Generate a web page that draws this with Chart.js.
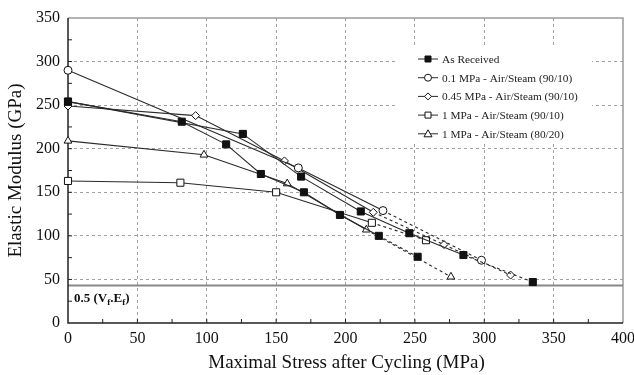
<!DOCTYPE html>
<html>
<head>
<meta charset="utf-8">
<script src="https://cdn.jsdelivr.net/npm/chart.js@4.4.0/dist/chart.umd.min.js"></script>
<style>
  html, body { margin: 0; padding: 0; background: #fff; }
  #wrap { width: 634px; height: 375px; }
</style>
</head>
<body>
<div id="wrap"><canvas id="chart"></canvas></div>
<script>
// values (stress in MPa, modulus in GPa)
const recA_x = [0, 82, 114, 139, 170, 196, 224, 252];
const recA_y = [254, 231, 205, 171, 150, 124, 100, 76];
const recB_x = [0, 126, 168, 211, 246, 285, 335];
const recB_y = [254, 217, 168, 128, 103, 78, 47];
const p01_x = [0, 166, 227, 298];
const p01_y = [290, 178, 129, 72];
const p045_x = [0, 92, 156, 220, 271, 319];
const p045_y = [249, 238, 186, 127, 90, 55];
const p1_x = [0, 81, 150, 219, 258];
const p1_y = [163, 161, 150, 115, 95];
const p1b_x = [0, 98, 158, 215, 276];
const p1b_y = [209, 193, 160, 107, 53];

const xTicks = [0, 50, 100, 150, 200, 250, 300, 350, 400];
const yTicks = [0, 50, 100, 150, 200, 250, 300, 350];
const limitValue = 43;

const legendLabels = [
  "As Received",
  "0.1 MPa - Air/Steam (90/10)",
  "0.45 MPa - Air/Steam (90/10)",
  "1 MPa - Air/Steam (90/10)",
  "1 MPa - Air/Steam (80/20)"
];

const FONT = "'Liberation Serif', 'Times New Roman', serif";
const LINE = "#2a2a2a";

function pts(xs, ys) {
  return xs.map((x, i) => ({ x: x, y: ys[i] }));
}

// segments from index dashFrom on are dotted
function series(xs, ys, style, fill, radius, dashFrom) {
  return {
    data: pts(xs, ys),
    showLine: true,
    clip: false,
    borderColor: LINE,
    borderWidth: 1.1,
    pointStyle: style,
    pointRadius: radius,
    pointBackgroundColor: fill,
    pointBorderColor: "#111",
    pointBorderWidth: 1,
    segment: {
      borderDash: c => c.p0DataIndex >= dashFrom ? [3, 3] : undefined
    }
  };
}

const datasets = [
  series(recA_x, recA_y, "rect", "#111", 5, 6),
  series(recB_x, recB_y, "rect", "#111", 5, 5),
  series(p01_x, p01_y, "circle", "#fff", 4, 2),
  series(p045_x, p045_y, "rectRot", "#fff", 4, 3),
  series(p1_x, p1_y, "rect", "#fff", 5, 3),
  series(p1b_x, p1b_y, "triangle", "#fff", 4.5, 3)
];

function marker(ctx, style, fill, x, y) {
  ctx.save();
  ctx.fillStyle = fill;
  ctx.strokeStyle = "#111";
  ctx.lineWidth = 1;
  ctx.beginPath();
  if (style === "rect") {
    ctx.rect(x - 3, y - 3, 6, 6);
  } else if (style === "circle") {
    ctx.arc(x, y, 3.5, 0, Math.PI * 2);
  } else if (style === "rectRot") {
    ctx.moveTo(x, y - 3.5); ctx.lineTo(x + 3.5, y); ctx.lineTo(x, y + 3.5); ctx.lineTo(x - 3.5, y); ctx.closePath();
  } else {
    ctx.moveTo(x, y - 4); ctx.lineTo(x + 4, y + 3); ctx.lineTo(x - 4, y + 3); ctx.closePath();
  }
  ctx.fill();
  ctx.stroke();
  ctx.restore();
}

const decor = {
  id: "decor",
  beforeDatasetsDraw(chart) {
    const ctx = chart.ctx;
    const a = chart.chartArea;
    const xs = chart.scales.x, ys = chart.scales.y;
    ctx.save();
    // legend background hides the grid
    ctx.fillStyle = "#fff";
    ctx.fillRect(397, 47, 195, 96);
    // top and right frame
    ctx.strokeStyle = "#9a9a9a";
    ctx.lineWidth = 1.5;
    ctx.beginPath();
    ctx.moveTo(a.left, a.top); ctx.lineTo(a.right, a.top); ctx.lineTo(a.right, a.bottom);
    ctx.stroke();
    // 0.5 (Vf.Ef) limit
    const ly = ys.getPixelForValue(limitValue);
    ctx.strokeStyle = "#888";
    ctx.lineWidth = 2;
    ctx.beginPath();
    ctx.moveTo(a.left, ly); ctx.lineTo(a.right, ly);
    ctx.stroke();
    // axes
    ctx.strokeStyle = "#222";
    ctx.lineWidth = 1.5;
    ctx.beginPath();
    ctx.moveTo(a.left, a.top); ctx.lineTo(a.left, a.bottom); ctx.lineTo(a.right, a.bottom);
    ctx.stroke();
    // minor ticks
    ctx.lineWidth = 1;
    ctx.beginPath();
    for (let v = 25; v < 400; v += 25) {
      const px = xs.getPixelForValue(v);
      ctx.moveTo(px, a.bottom); ctx.lineTo(px, a.bottom - 4);
    }
    for (let v = 25; v < 350; v += 25) {
      const py = ys.getPixelForValue(v);
      ctx.moveTo(a.left, py); ctx.lineTo(a.left + 4, py);
    }
    ctx.stroke();
    // limit label
    ctx.fillStyle = "#111";
    ctx.textBaseline = "alphabetic";
    let tx = a.left + 6, ty = ly + 16;
    const parts = [["0.5 (V", 13, 0], ["f", 9, 3], [".E", 13, 0], ["f", 9, 3], [")", 13, 0]];
    parts.forEach(p => {
      ctx.font = "bold " + p[1] + "px " + FONT;
      ctx.fillText(p[0], tx, ty + p[2]);
      tx += ctx.measureText(p[0]).width;
    });
    // axis titles
    ctx.font = "19px " + FONT;
    ctx.textAlign = "center";
    ctx.textBaseline = "middle";
    ctx.fillText("Maximal Stress after Cycling (MPa)", (a.left + a.right) / 2 + 1, 363);
    ctx.translate(16, (a.top + a.bottom) / 2);
    ctx.rotate(-Math.PI / 2);
    ctx.fillText("Elastic Modulus (GPa)", 0, 0);
    ctx.restore();
  },
  afterDraw(chart) {
    const ctx = chart.ctx;
    const styles = [["rect", "#111"], ["circle", "#fff"], ["rectRot", "#fff"], ["rect", "#fff"], ["triangle", "#fff"]];
    ctx.save();
    ctx.font = "11.3px " + FONT;
    ctx.textBaseline = "middle";
    legendLabels.forEach((t, i) => {
      const y = 59 + i * 18.7;
      ctx.strokeStyle = LINE;
      ctx.lineWidth = 1;
      ctx.beginPath();
      ctx.moveTo(418, y); ctx.lineTo(438, y);
      ctx.stroke();
      marker(ctx, styles[i][0], styles[i][1], 428, y);
      ctx.fillStyle = "#222";
      ctx.fillText(t, 442, y + 1);
    });
    ctx.restore();
  }
};

new Chart(document.getElementById("chart"), {
  type: "scatter",
  data: { datasets: datasets },
  options: {
    responsive: true,
    maintainAspectRatio: false,
    animation: false,
    layout: { padding: { top: 18, right: 0, left: 0, bottom: 0 } },
    plugins: { legend: { display: false }, tooltip: { enabled: false } },
    scales: {
      x: {
        type: "linear",
        min: 0, max: 400,
        afterFit: s => { s.height = 52; s.paddingRight = 11; s.paddingLeft = 0; },
        afterBuildTicks: s => { s.ticks = xTicks.map(v => ({ value: v })); },
        grid: {
          color: c => (c.tick && (c.tick.value === 0 || c.tick.value === 400)) ? "rgba(0,0,0,0)" : "#a0a0a0",
          lineWidth: 1,
          drawTicks: false
        },
        border: { display: false, dash: [3, 3] },
        ticks: { color: "#111", font: { family: FONT, size: 16 }, padding: 6, maxRotation: 0 },
        title: { display: false }
      },
      y: {
        type: "linear",
        min: 0, max: 350,
        afterFit: s => { s.width = 68; s.paddingTop = 0; s.paddingBottom = 0; },
        afterBuildTicks: s => { s.ticks = yTicks.map(v => ({ value: v })); },
        grid: {
          color: c => (c.tick && (c.tick.value === 0 || c.tick.value === 350)) ? "rgba(0,0,0,0)" : "#a0a0a0",
          lineWidth: 1,
          drawTicks: false
        },
        border: { display: false, dash: [3, 3] },
        ticks: { color: "#111", font: { family: FONT, size: 16 }, padding: 8 },
        title: { display: false }
      }
    }
  },
  plugins: [decor]
});
</script>
</body>
</html>
